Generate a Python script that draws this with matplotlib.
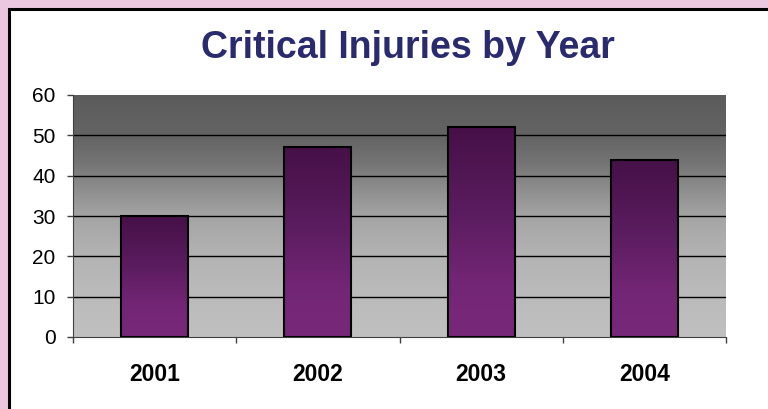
import numpy as np
import matplotlib
matplotlib.use("Agg")
import matplotlib.pyplot as plt
from matplotlib.colors import LinearSegmentedColormap
from matplotlib.patches import Rectangle

# data
years = ["2001", "2002", "2003", "2004"]
injuries = [30, 47, 52, 44]
y_ticks = [0, 10, 20, 30, 40, 50, 60]

plt.rcParams["font.family"] = ["Liberation Sans", "DejaVu Sans"]

fig = plt.figure(figsize=(7.68, 4.09), dpi=100)
fig.patch.set_facecolor("#ECC8E0")

# white panel with black frame (right/bottom run off the picture)
fig.patches.append(Rectangle((8.5 / 768, -0.05), 1.1, (409 - 9) / 409 + 0.05,
                             transform=fig.transFigure, facecolor="white",
                             edgecolor="black", linewidth=2.2, zorder=-5))

ax = fig.add_axes([73 / 768, 72 / 409, 653 / 768, 242 / 409])
ax.set_facecolor("none")

x = np.arange(len(years))
ax.set_xlim(-0.5, len(years) - 0.5)
ax.set_ylim(0, 60)

# gray gradient backdrop (dark at top)
bg_cmap = LinearSegmentedColormap.from_list(
    "bg", [(0.0, "#c0c0c0"), (0.2, "#bababa"), (0.35, "#b2b2b2"),
           (0.5, "#a4a4a4"), (0.62, "#8c8c8c"), (0.72, "#747474"),
           (0.83, "#646464"), (1.0, "#5c5c5c")])
grad = np.linspace(0, 1, 256).reshape(-1, 1)
ax.imshow(grad, extent=(-0.5, len(years) - 0.5, 0, 60), origin="lower",
          aspect="auto", cmap=bg_cmap, zorder=0)

# grid
for v in y_ticks[1:-1]:
    ax.axhline(v, color="black", linewidth=1.0, zorder=1)

# bars with purple gradient
bar_cmap = LinearSegmentedColormap.from_list(
    "bar", [(0.0, "#782878"), (0.25, "#742676"), (0.6, "#5a1c5e"),
            (1.0, "#461048")])
bars = ax.bar(x, injuries, width=0.41, facecolor="none",
              edgecolor="black", linewidth=1.5, zorder=3)
for b in bars:
    x0, w, h = b.get_x(), b.get_width(), b.get_height()
    im = ax.imshow(grad, extent=(x0, x0 + w, 0, h), origin="lower",
                   aspect="auto", cmap=bar_cmap, zorder=2)
    im.set_clip_path(b)

ax.set_xlim(-0.5, len(years) - 0.5)
ax.set_ylim(0, 60)

for s in ["top", "right"]:
    ax.spines[s].set_visible(False)
ax.spines["left"].set_color("#404040")
ax.spines["bottom"].set_color("#404040")

ax.set_yticks(y_ticks)
ax.set_yticklabels([str(v) for v in y_ticks], fontsize=15)
ax.tick_params(axis="y", length=4.5, width=1, color="#404040", pad=8)

ax.set_xticks(x)
ax.set_xticklabels(years, fontsize=16.5, fontweight="bold")
ax.tick_params(axis="x", length=0, pad=19)
ax.set_xticks(np.arange(len(years) + 1) - 0.5, minor=True)
ax.tick_params(axis="x", which="minor", length=4.5, width=1, color="#404040")

fig.text(408 / 768, 1 - 48 / 409, "Critical Injuries by Year",
         ha="center", va="center", fontsize=27, fontweight="bold",
         color="#2A2A6E")

fig.savefig("out.png", dpi=100, facecolor=fig.get_facecolor())
